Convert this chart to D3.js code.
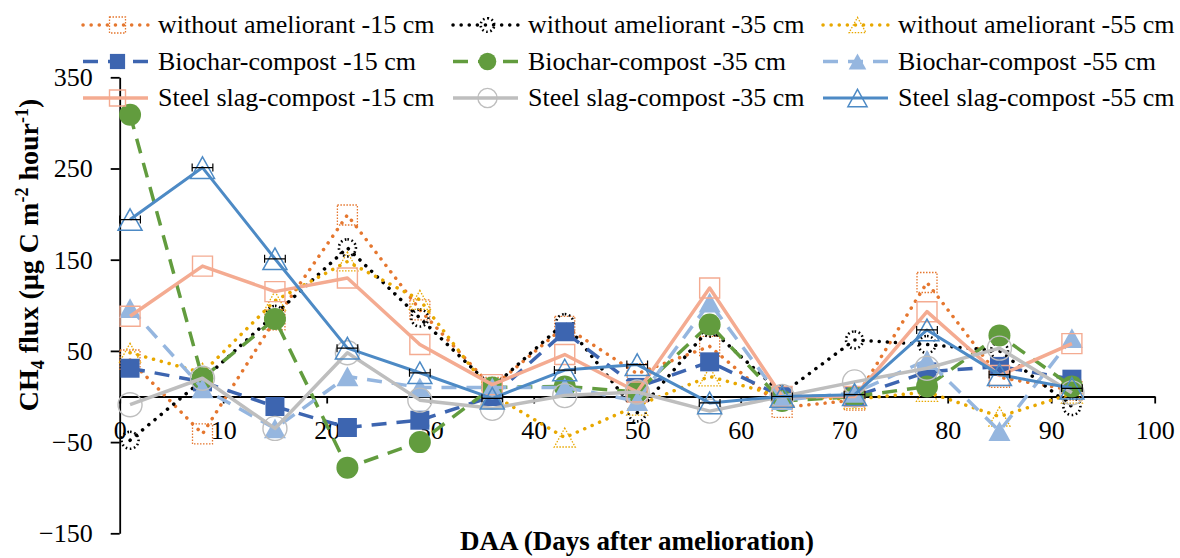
<!DOCTYPE html>
<html><head><meta charset="utf-8">
<script src="https://cdn.jsdelivr.net/npm/d3@7"></script>
<style>
body{margin:0;background:#fff}
text{font-family:"Liberation Serif","Times New Roman",serif;fill:#000}
</style>
</head><body>
<svg id="chart" width="1180" height="558"></svg>
<script>
// ---- data ----
const days = [1, 8, 15, 22, 29, 36, 43, 50, 57, 64, 71, 78, 85, 92];
const withoutAmeliorant15 = [40, -41, 84, 199, 95, 10, 77, 25, 55, -12, -4, 125, 21, 7];
const withoutAmeliorant35 = [-48, 18, 90, 163, 86, 10, 81, -18, 75, 3, 62, 57, 50, -11];
const withoutAmeliorant55 = [48, 26, 105, 148, 106, 2, -45, -10, 22, 0, -3, 5, -22, 3];
const biocharCompost15 = [31, 16, -11, -34, -26, 0, 71, 10, 38, 0, 0, 27, 33, 19];
const biocharCompost35 = [309, 20, 85, -78, -50, 10, 11, 5, 79, -5, 0, 11, 67, 11];
const biocharCompost55 = [97, 9, -35, 22, 10, 10, 10, -5, 103, -4, 4, 40, -38, 64];
const steelSlagCompost15 = [88, 143, 115, 130, 57, 13, 46, 5, 119, 0, 0, 93, 23, 58];
const steelSlagCompost35 = [-9, 20, -35, 48, -4, -13, 1, 5, -16, 0, 16, 31, 53, 4];
const steelSlagCompost55 = [194, 251, 151, 53, 26, -2, 29, 35, -7, 0, 2, 73, 24, 9];
const steelSlagCompost55DayErr = [1, 1, 1, 1, 1, 1, 1, 1, 1, 1, 1, 1, 1, 1];
const seriesNames = [
  "without ameliorant -15 cm", "without ameliorant -35 cm", "without ameliorant -55 cm",
  "Biochar-compost -15 cm", "Biochar-compost -35 cm", "Biochar-compost -55 cm",
  "Steel slag-compost -15 cm", "Steel slag-compost -35 cm", "Steel slag-compost -55 cm"
];
const xTickValues = [0, 10, 20, 30, 40, 50, 60, 70, 80, 90, 100];
const yTickValues = [-150, -50, 50, 150, 250, 350];
const xTitle = "DAA (Days after amelioration)";

// ---- styles ----
const dotted = {dash: "0.1 8", cap: "round", width: 3.5};
const dashed = {dash: "15 10", cap: "butt", width: 3.5};
const solid = {dash: null, cap: "butt", width: 3.5};
const series = [
  {values: withoutAmeliorant15, color: "#E5772F", line: dotted, marker: "square", fill: false, mdash: "1.5 1.5", msw: 1.3, size: 20},
  {values: withoutAmeliorant35, color: "#000000", line: dotted, marker: "circle", fill: false, mdash: "1.6 2.6", msw: 2.6, size: 17},
  {values: withoutAmeliorant55, color: "#E8A800", line: dotted, marker: "triangle", fill: false, mdash: "1.5 1.5", msw: 1.3, size: 21},
  {values: biocharCompost15, color: "#3D65B0", line: dashed, marker: "square", fill: true, size: 19},
  {values: biocharCompost35, color: "#629C3E", line: dashed, marker: "circle", fill: true, size: 22},
  {values: biocharCompost55, color: "#95B6DF", line: dashed, marker: "triangle", fill: true, size: 22},
  {values: steelSlagCompost15, color: "#F4AB91", line: solid, marker: "square", fill: false, msw: 1.4, size: 20},
  {values: steelSlagCompost35, color: "#BEBEBE", line: solid, marker: "circle", fill: false, msw: 1.4, size: 24},
  {values: steelSlagCompost55, color: "#4D8AC5", line: {dash: null, cap: "butt", width: 3}, marker: "triangle", fill: false, msw: 1.5, size: 24, xerr: steelSlagCompost55DayErr}
];

const svg = d3.select("#chart");
const x = d3.scaleLinear().domain([0, 100]).range([119.7, 1154.7]);
const y = d3.scaleLinear().domain([-150, 350]).range([533.3, 77.3]);

function markerPath(type, s) {
  const h = s / 2;
  if (type === "square") return `M${-h},${-h}H${h}V${h}H${-h}Z`;
  if (type === "circle") return d3.arc()({innerRadius: 0, outerRadius: h, startAngle: 0, endAngle: 2 * Math.PI});
  const th = s * 0.9 / 2;
  return `M0,${-th}L${h},${th}L${-h},${th}Z`;
}
function drawMarker(g, s, cx, cy, scale = 1) {
  g.append("path")
    .attr("d", markerPath(s.marker, s.size * scale))
    .attr("transform", `translate(${cx},${cy})`)
    .attr("fill", s.fill ? s.color : "none")
    .attr("stroke", s.fill ? "none" : s.color)
    .attr("stroke-width", s.msw || 1)
    .attr("stroke-dasharray", s.mdash || null);
}
function styleLine(sel, s) {
  sel.attr("fill", "none").attr("stroke", s.color)
    .attr("stroke-width", s.line.width)
    .attr("stroke-linecap", s.line.cap)
    .attr("stroke-linejoin", "round")
    .attr("stroke-dasharray", s.line.dash);
}

// ---- axes ----
const yAxis = svg.append("g").attr("transform", `translate(${x(0)},0)`)
  .call(d3.axisLeft(y).tickValues(yTickValues).tickSize(9).tickPadding(18).tickSizeOuter(0).tickFormat(d3.format("d")));
const xAxis = svg.append("g").attr("transform", `translate(0,${y(0)})`)
  .call(d3.axisBottom(x).tickValues(xTickValues).tickSize(7).tickPadding(17).tickSizeOuter(0));
[yAxis, xAxis].forEach(a => {
  a.attr("font-family", null);
  a.selectAll("path,line").attr("stroke", "#000").attr("stroke-width", 1.8);
  a.selectAll("text").attr("font-size", 26).attr("fill", "#000");
});

// ---- series ----
const lineGen = d3.line().x((d, i) => x(days[i])).y(d => y(d));
series.forEach(s => {
  const g = svg.append("g");
  g.append("path").datum(s.values).attr("d", lineGen).call(styleLine, s);
  s.values.forEach((v, i) => drawMarker(g, s, x(days[i]), y(v)));
  if (s.xerr) {
    s.values.forEach((v, i) => {
      const x0 = x(days[i] - s.xerr[i]), x1 = x(days[i] + s.xerr[i]), cy = y(v);
      g.append("path").attr("d", `M${x0},${cy}H${x1}M${x0},${cy - 4}V${cy + 4}M${x1},${cy - 4}V${cy + 4}`)
        .attr("stroke", "#000").attr("stroke-width", 1.2).attr("fill", "none");
    });
  }
});

// ---- legend ----
const legCols = [83, 453, 823], legRows = [25, 61.5, 98], sampleW = 65;
series.forEach((s, k) => {
  const lx = legCols[k % 3], ly = legRows[Math.floor(k / 3)];
  const g = svg.append("g");
  g.append("path").attr("d", `M${lx},${ly}H${lx + sampleW}`).call(styleLine, s);
  drawMarker(g, s, lx + sampleW / 2 + 2, ly, 0.8);
  g.append("text").attr("x", lx + sampleW + 10).attr("y", ly).attr("dy", "0.32em")
    .attr("font-size", 26).text(seriesNames[k]);
});

// ---- titles ----
svg.append("text").attr("x", 637).attr("y", 550).attr("text-anchor", "middle")
  .attr("font-size", 27).attr("font-weight", "bold").text(xTitle);
const yt = svg.append("text").attr("transform", "translate(38,255) rotate(-90)")
  .attr("text-anchor", "middle").attr("font-size", 28).attr("font-weight", "bold");
yt.append("tspan").text("CH");
yt.append("tspan").attr("font-size", 18).attr("dy", 6).text("4");
yt.append("tspan").attr("dy", -6).text(" flux (µg C m");
yt.append("tspan").attr("font-size", 18).attr("dy", -10).text("-2");
yt.append("tspan").attr("dy", 10).text(" hour");
yt.append("tspan").attr("font-size", 18).attr("dy", -10).text("-1");
yt.append("tspan").attr("dy", 10).text(")");
</script>
</body></html>
